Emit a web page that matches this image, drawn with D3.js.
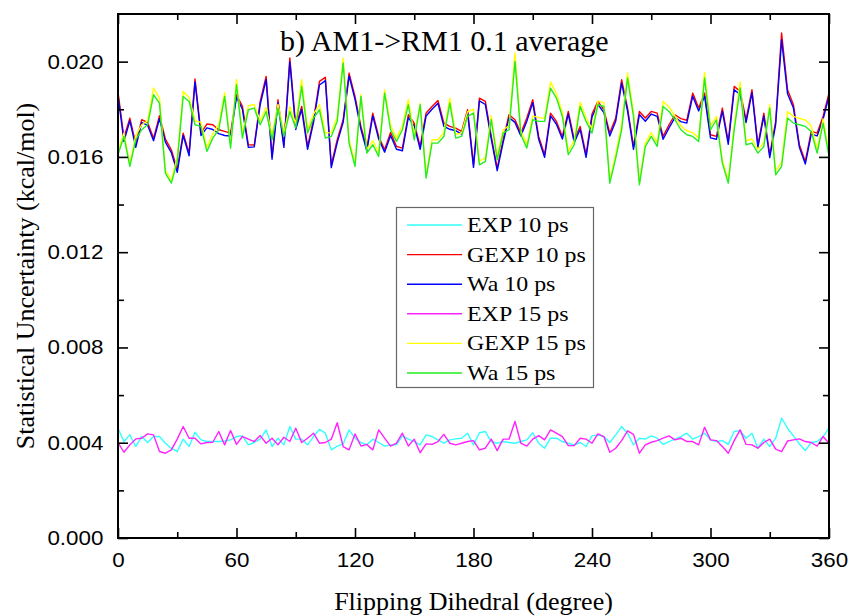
<!DOCTYPE html>
<html>
<head>
<meta charset="utf-8">
<script src="https://cdn.jsdelivr.net/npm/d3@7"></script>
<style>
  body { margin: 0; background: #fff; }
  svg { display: block; }
  .tick line { stroke: #000; stroke-width: 1.6; }
  .domain { display: none; }
</style>
</head>
<body>
<svg width="850" height="616"></svg>
<script>
// dihedral angle step, degrees
var step = 3;

var exp10 = [
  0.00461,0.00405,0.00433,0.00384,0.00426,0.00401,0.00426,0.00426,0.00398,0.00377,
  0.00363,0.00415,0.00384,0.00444,0.00412,0.00405,0.00405,0.00405,0.00407,0.00412,
  0.00426,0.00429,0.00391,0.00401,0.00415,0.00454,0.00384,0.00419,0.00391,0.00468,
  0.00415,0.00415,0.00391,0.00426,0.00456,0.00440,0.00370,0.00386,0.00395,0.00454,
  0.00419,0.00401,0.00391,0.00415,0.00401,0.00386,0.00391,0.00391,0.00429,0.00415,
  0.00405,0.00391,0.00433,0.00426,0.00412,0.00398,0.00412,0.00416,0.00419,0.00440,
  0.00391,0.00442,0.00447,0.00405,0.00398,0.00405,0.00401,0.00398,0.00405,0.00412,
  0.00442,0.00398,0.00377,0.00419,0.00419,0.00405,0.00398,0.00391,0.00401,0.00384,
  0.00429,0.00433,0.00426,0.00401,0.00433,0.00468,0.00440,0.00391,0.00419,0.00415,
  0.00429,0.00419,0.00393,0.00405,0.00415,0.00426,0.00440,0.00415,0.00426,0.00440,
  0.00412,0.00405,0.00409,0.00393,0.00447,0.00451,0.00419,0.00440,0.00377,0.00415,
  0.00384,0.00419,0.00503,0.00461,0.00429,0.00395,0.00367,0.00401,0.00405,0.00426,
  0.00461
];
var gexp10 = [
  0.01872,0.01682,0.01763,0.01655,0.01756,0.01745,0.01678,0.01773,0.01675,0.01630,
  0.01548,0.01700,0.01616,0.01927,0.01700,0.01738,0.01735,0.01714,0.01707,0.01700,
  0.01861,0.01812,0.01651,0.01650,0.01833,0.01938,0.01602,0.01840,0.01650,0.02015,
  0.01728,0.01812,0.01644,0.01756,0.01917,0.01934,0.01567,0.01672,0.01756,0.01952,
  0.01854,0.01728,0.01637,0.01784,0.01686,0.01630,0.01703,0.01644,0.01637,0.01777,
  0.01742,0.01644,0.01784,0.01812,0.01837,0.01742,0.01728,0.01721,0.01707,0.01798,
  0.01567,0.01847,0.01833,0.01686,0.01553,0.01672,0.01777,0.01756,0.01700,0.01763,
  0.01840,0.01686,0.01609,0.01784,0.01749,0.01686,0.01791,0.01672,0.01728,0.01609,
  0.01780,0.01833,0.01798,0.01700,0.01763,0.01924,0.01805,0.01644,0.01791,0.01763,
  0.01791,0.01784,0.01686,0.01735,0.01777,0.01761,0.01754,0.01868,0.01805,0.01868,
  0.01693,0.01686,0.01805,0.01665,0.01896,0.01875,0.01756,0.01882,0.01651,0.01784,
  0.01609,0.01749,0.02120,0.01882,0.01819,0.01651,0.01581,0.01707,0.01700,0.01770,
  0.01868
];
var wa10 = [
  0.01860,0.01665,0.01752,0.01640,0.01744,0.01733,0.01668,0.01760,0.01662,0.01618,
  0.01535,0.01690,0.01605,0.01915,0.01690,0.01722,0.01715,0.01698,0.01690,0.01688,
  0.01850,0.01800,0.01640,0.01642,0.01820,0.01925,0.01590,0.01828,0.01640,0.02000,
  0.01715,0.01800,0.01632,0.01745,0.01902,0.01920,0.01555,0.01660,0.01745,0.01940,
  0.01842,0.01716,0.01625,0.01772,0.01675,0.01620,0.01690,0.01632,0.01626,0.01765,
  0.01730,0.01632,0.01772,0.01800,0.01825,0.01728,0.01716,0.01710,0.01696,0.01786,
  0.01556,0.01835,0.01820,0.01675,0.01542,0.01660,0.01765,0.01745,0.01688,0.01750,
  0.01828,0.01674,0.01598,0.01772,0.01737,0.01675,0.01780,0.01660,0.01716,0.01598,
  0.01768,0.01820,0.01786,0.01688,0.01750,0.01910,0.01793,0.01632,0.01778,0.01750,
  0.01780,0.01770,0.01674,0.01722,0.01765,0.01748,0.01742,0.01855,0.01793,0.01855,
  0.01680,0.01674,0.01792,0.01653,0.01882,0.01862,0.01744,0.01870,0.01640,0.01772,
  0.01597,0.01737,0.02092,0.01865,0.01805,0.01640,0.01570,0.01695,0.01688,0.01758,
  0.01855
];
var exp15 = [
  0.00401,0.00360,0.00391,0.00416,0.00419,0.00437,0.00433,0.00363,0.00356,0.00370,
  0.00415,0.00468,0.00419,0.00419,0.00395,0.00401,0.00402,0.00447,0.00391,0.00451,
  0.00393,0.00426,0.00415,0.00405,0.00430,0.00398,0.00419,0.00391,0.00423,0.00405,
  0.00461,0.00401,0.00419,0.00440,0.00398,0.00401,0.00415,0.00484,0.00384,0.00370,
  0.00437,0.00386,0.00393,0.00370,0.00454,0.00419,0.00386,0.00398,0.00440,0.00386,
  0.00415,0.00358,0.00395,0.00393,0.00405,0.00435,0.00398,0.00391,0.00398,0.00405,
  0.00409,0.00370,0.00377,0.00415,0.00367,0.00415,0.00415,0.00489,0.00398,0.00386,
  0.00415,0.00430,0.00412,0.00454,0.00440,0.00426,0.00388,0.00388,0.00419,0.00415,
  0.00398,0.00437,0.00426,0.00360,0.00377,0.00409,0.00450,0.00435,0.00356,0.00391,
  0.00402,0.00409,0.00419,0.00429,0.00412,0.00419,0.00405,0.00405,0.00391,0.00465,
  0.00412,0.00409,0.00384,0.00356,0.00409,0.00454,0.00393,0.00391,0.00377,0.00401,
  0.00415,0.00373,0.00363,0.00407,0.00412,0.00416,0.00405,0.00401,0.00386,0.00426,
  0.00398
];
var gexp15 = [
  0.01625,0.01700,0.01572,0.01690,0.01735,0.01752,0.01889,0.01848,0.01545,0.01502,
  0.01598,0.01875,0.01850,0.01752,0.01745,0.01640,0.01697,0.01735,0.01870,0.01652,
  0.01925,0.01695,0.01815,0.01820,0.01752,0.01808,0.01690,0.01820,0.01702,0.01812,
  0.01740,0.01925,0.01715,0.01780,0.01820,0.01700,0.01702,0.01768,0.02015,0.01672,
  0.01575,0.01862,0.01632,0.01668,0.01618,0.01882,0.01732,0.01680,0.01730,0.01840,
  0.01690,0.01825,0.01525,0.01672,0.01672,0.01702,0.01847,0.01695,0.01700,0.01790,
  0.01800,0.01582,0.01596,0.01772,0.01602,0.01714,0.01730,0.02036,0.01710,0.01652,
  0.01772,0.01765,0.01762,0.01915,0.01865,0.01788,0.01624,0.01668,0.01830,0.01765,
  0.01718,0.01834,0.01828,0.01502,0.01612,0.01735,0.01952,0.01790,0.01495,0.01658,
  0.01702,0.01660,0.01834,0.01810,0.01772,0.01730,0.01710,0.01702,0.01680,0.01955,
  0.01730,0.01770,0.01588,0.01502,0.01730,0.01915,0.01668,0.01675,0.01632,0.01660,
  0.01820,0.01540,0.01578,0.01790,0.01770,0.01762,0.01755,0.01730,0.01632,0.01760,
  0.01618
];
var wa15 = [
  0.01610,0.01686,0.01560,0.01672,0.01714,0.01735,0.01861,0.01826,0.01532,0.01490,
  0.01580,0.01854,0.01833,0.01735,0.01728,0.01623,0.01679,0.01714,0.01854,0.01637,
  0.01903,0.01679,0.01798,0.01805,0.01735,0.01791,0.01672,0.01805,0.01686,0.01791,
  0.01721,0.01896,0.01700,0.01763,0.01798,0.01679,0.01686,0.01750,0.01994,0.01658,
  0.01560,0.01854,0.01616,0.01651,0.01602,0.01868,0.01714,0.01665,0.01714,0.01819,
  0.01672,0.01819,0.01511,0.01658,0.01658,0.01686,0.01826,0.01679,0.01686,0.01770,
  0.01784,0.01567,0.01581,0.01756,0.01588,0.01700,0.01714,0.02001,0.01693,0.01637,
  0.01756,0.01749,0.01749,0.01889,0.01847,0.01770,0.01609,0.01651,0.01812,0.01749,
  0.01700,0.01819,0.01812,0.01490,0.01595,0.01714,0.01931,0.01770,0.01483,0.01644,
  0.01686,0.01644,0.01812,0.01791,0.01756,0.01714,0.01693,0.01686,0.01665,0.01931,
  0.01714,0.01756,0.01574,0.01490,0.01714,0.01889,0.01651,0.01658,0.01616,0.01644,
  0.01805,0.01525,0.01560,0.01763,0.01742,0.01735,0.01728,0.01707,0.01616,0.01742,
  0.01602
];

var seriesNames = ['EXP 10 ps', 'GEXP 10 ps', 'Wa 10 ps', 'EXP 15 ps', 'GEXP 15 ps', 'Wa 15 ps'];
var seriesValues = [exp10, gexp10, wa10, exp15, gexp15, wa15];
var seriesColors = ['#33ffff', '#ff0000', '#0000ff', '#ff22ff', '#ffff00', '#22ee22'];

var xTicks = [0, 60, 120, 180, 240, 300, 360];
var xMinor = [30, 90, 150, 210, 270, 330];
var yTicks = [0.000, 0.004, 0.008, 0.012, 0.016, 0.020];
var yMinor = [0.002, 0.006, 0.010, 0.014, 0.018];

var svg = d3.select('svg');
var plotLeft = 118, plotRight = 829, plotTop = 14, plotBottom = 538;

var xScale = d3.scaleLinear().domain([0, 360]).range([plotLeft, plotRight]);
var yScale = d3.scaleLinear().domain([0, 0.022]).range([plotBottom, plotTop]);

svg.append('rect')
    .attr('width', 850).attr('height', 616).attr('fill', '#fff');

// lines
var line = d3.line()
    .x(function(d, i) { return xScale(i * step); })
    .y(function(d) { return yScale(d); });

seriesValues.forEach(function(vals, k) {
    svg.append('path')
        .datum(vals)
        .attr('fill', 'none')
        .attr('stroke', seriesColors[k])
        .attr('stroke-width', 1.4)
        .attr('stroke-linejoin', 'round')
        .attr('d', line);
});

// axes, ticks pointing inward
var tickFont = 'Liberation Sans, Arial, sans-serif';

svg.append('g')
    .attr('class', 'x axis')
    .attr('transform', 'translate(0,' + plotBottom + ')')
    .call(d3.axisBottom(xScale).tickValues(xTicks).tickSize(-10).tickPadding(15).tickFormat(d3.format('d')));
svg.append('g')
    .attr('transform', 'translate(0,' + plotBottom + ')')
    .call(d3.axisBottom(xScale).tickValues(xMinor).tickSize(-6).tickFormat(''));
svg.append('g')
    .attr('transform', 'translate(0,' + plotTop + ')')
    .call(d3.axisTop(xScale).tickValues(xTicks).tickSize(-10).tickFormat(''));
svg.append('g')
    .attr('transform', 'translate(0,' + plotTop + ')')
    .call(d3.axisTop(xScale).tickValues(xMinor).tickSize(-6).tickFormat(''));

svg.append('g')
    .attr('class', 'y axis')
    .attr('transform', 'translate(' + plotLeft + ',0)')
    .call(d3.axisLeft(yScale).tickValues(yTicks).tickSize(-10).tickPadding(13).tickFormat(d3.format('.3f')));
svg.append('g')
    .attr('transform', 'translate(' + plotLeft + ',0)')
    .call(d3.axisLeft(yScale).tickValues(yMinor).tickSize(-6).tickFormat(''));
svg.append('g')
    .attr('transform', 'translate(' + plotRight + ',0)')
    .call(d3.axisRight(yScale).tickValues(yTicks).tickSize(-10).tickFormat(''));
svg.append('g')
    .attr('transform', 'translate(' + plotRight + ',0)')
    .call(d3.axisRight(yScale).tickValues(yMinor).tickSize(-6).tickFormat(''));

// labels in the original are a little wider than the font
svg.selectAll('.tick text')
    .attr('fill', '#000')
    .attr('transform', 'scale(1.12,1)')
    .style('font-family', tickFont)
    .style('font-size', '20px');

// frame
svg.append('rect')
    .attr('x', plotLeft).attr('y', plotTop)
    .attr('width', plotRight - plotLeft).attr('height', plotBottom - plotTop)
    .attr('fill', 'none')
    .attr('stroke', '#000')
    .attr('stroke-width', 2);

var serif = 'Liberation Serif, Times New Roman, serif';

svg.append('text')
    .attr('x', 280).attr('y', 51)
    .style('font-family', serif).style('font-size', '30px')
    .text('b) AM1->RM1 0.1 average');

svg.append('text')
    .attr('x', (plotLeft + plotRight) / 2).attr('y', 610)
    .attr('text-anchor', 'middle')
    .style('font-family', serif).style('font-size', '26px')
    .text('Flipping Dihedral (degree)');

svg.append('text')
    .attr('transform', 'translate(34,' + (plotTop + plotBottom) / 2 + ') rotate(-90)')
    .attr('text-anchor', 'middle')
    .style('font-family', serif).style('font-size', '26px')
    .text('Statistical Uncertainty (kcal/mol)');

// legend
var legend = svg.append('g');
legend.append('rect')
    .attr('x', 396.5).attr('y', 207.5)
    .attr('width', 197).attr('height', 180)
    .attr('fill', '#fff')
    .attr('stroke', '#666')
    .attr('stroke-width', 1.2);

seriesNames.forEach(function(name, k) {
    var cy = 225 + k * 29.6;
    legend.append('line')
        .attr('x1', 407).attr('x2', 462)
        .attr('y1', cy).attr('y2', cy)
        .attr('stroke', seriesColors[k])
        .attr('stroke-width', 1.4);
    legend.append('text')
        .attr('transform', 'translate(467,' + (cy + 7) + ') scale(1.14,1)')
        .style('font-family', serif).style('font-size', '21px')
        .text(name);
});
</script>
</body>
</html>
